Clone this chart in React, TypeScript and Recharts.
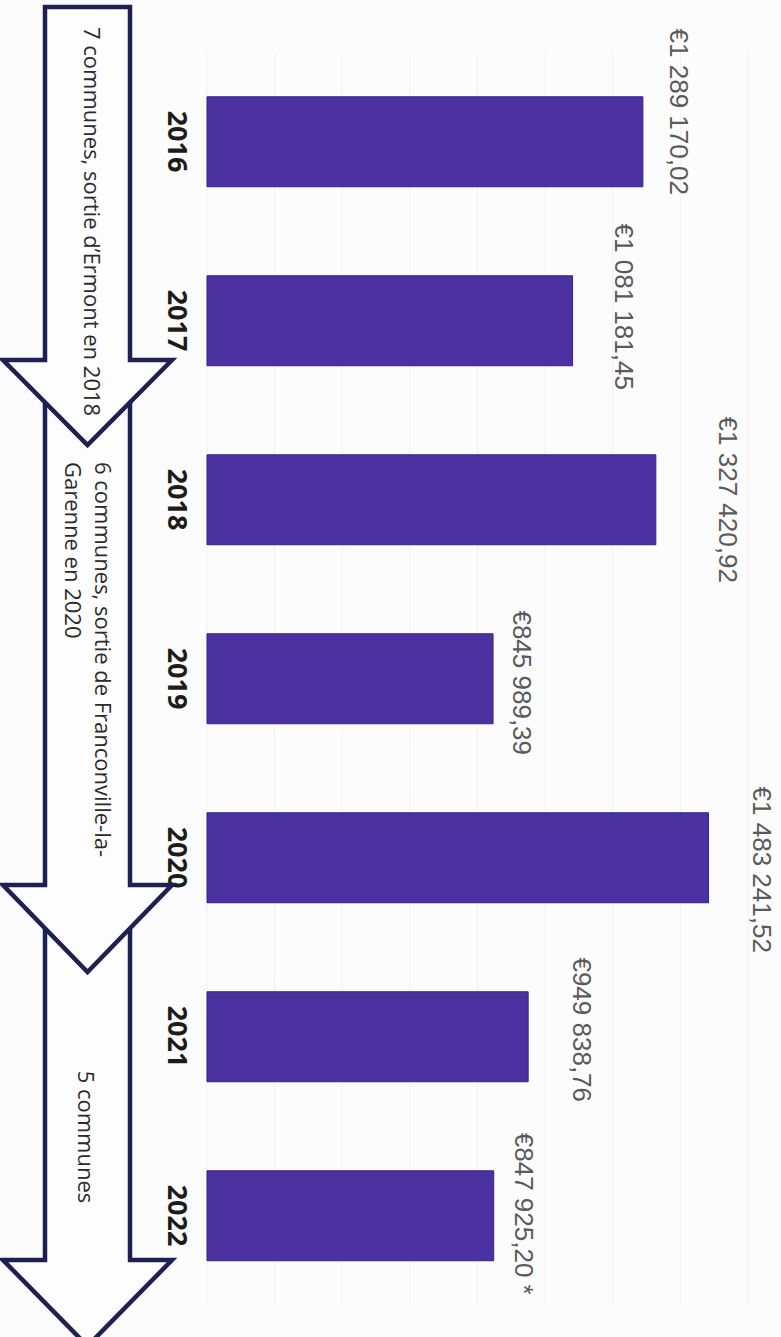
import React from 'react';
import { BarChart, Bar, XAxis, YAxis, CartesianGrid, LabelList } from 'recharts';

// ---- data ----
const years = ['2016', '2017', '2018', '2019', '2020', '2021', '2022'];
const amounts = [1289170.02, 1081181.45, 1327420.92, 845989.39, 1483241.52, 949838.76, 847925.2];
const footnotes = ['', '', '', '', '', '', ' *'];
const xTicks = [0, 200000, 400000, 600000, 800000, 1000000, 1200000, 1400000, 1600000];
const arrowTexts1 = ['7 communes, sortie d\u2019Ermont en 2018'];
const arrowTexts2 = ['6 communes, sortie de Franconville-la-', 'Garenne en 2020'];
const arrowTexts3 = ['5 communes'];

const data = years.map((y, i) => ({ year: y, value: amounts[i] }));

// ---- layout / style constants ----
const W = 781;
const H = 1337;
const BAR_COLOR = '#4b30a0';
const BAR_EDGE = '#33248f';
const ARROW_COLOR = '#1d2050';
const LABEL_DX = [36, 51, 72, 29, 53, 54, 30];
const LABEL_DY = [-30, -14, 0, 4, 12, -7, -2];
const SANS = "'Open Sans', 'Liberation Sans', sans-serif";
const VAL_FONT = "'Liberation Sans', Arial, sans-serif";

function formatEuro(v: number): string {
  const [intPart, dec] = v.toFixed(2).split('.');
  const grouped = intPart.replace(/\B(?=(\d{3})+(?!\d))/g, ' ');
  return `\u20ac${grouped},${dec}`;
}

const YearTick = (props: any) => {
  const { y, payload } = props;
  return (
    <text
      transform={`translate(178, ${y}) rotate(90)`}
      textAnchor="middle"
      dominantBaseline="central"
      fontFamily={SANS}
      fontWeight={700}
      fontSize={27}
      fill="#1c1c1c"
    >
      {payload.value}
    </text>
  );
};

const ValueLabel = (props: any) => {
  const { x, y, width, height, index, value } = props;
  const cx = Number(x) + Number(width) + LABEL_DX[index];
  const cy = Number(y) + Number(height) / 2 + LABEL_DY[index];
  return (
    <text
      transform={`translate(${cx}, ${cy}) rotate(90)`}
      textAnchor="middle"
      dominantBaseline="central"
      fontFamily={VAL_FONT}
      fontSize={26}
      fill="#5a5a5a"
    >
      {formatEuro(Number(value)) + footnotes[index]}
    </text>
  );
};

function arrowPoints(top: number, headBase: number, tip: number): string {
  const l = 45, r = 130, wl = 3, wr = 172, cx = 87.5;
  return [
    [l, top], [r, top], [r, headBase], [wr, headBase], [cx, tip], [wl, headBase], [l, headBase],
  ].map((p) => p.join(',')).join(' ');
}

const RotText = ({ x, y, lines, anchor, gap }: { x: number; y: number; lines: string[]; anchor: 'start' | 'middle'; gap: number }) => (
  <g>
    {lines.map((t, i) => (
      <text
        key={i}
        transform={`translate(${x - i * gap}, ${y}) rotate(90)`}
        textAnchor={anchor}
        dominantBaseline="central"
        fontFamily={SANS}
        fontSize={22}
        fill="#2b2b2b"
      >
        {t}
      </text>
    ))}
  </g>
);

export default function App() {
  return (
    <div style={{ position: 'absolute', left: 0, top: 0, width: W, height: H, background: '#fcfcfd', overflow: 'hidden' }}>
      <BarChart
        width={W}
        height={H}
        data={data}
        layout="vertical"
        margin={{ top: 52, right: 33, bottom: 32, left: 0 }}
        barCategoryGap="25%"
      >
        <CartesianGrid horizontal={false} vertical={true} stroke="#f1f1f4" strokeWidth={1} />
        <XAxis type="number" domain={[0, 1600000]} ticks={xTicks} hide />
        <YAxis
          type="category"
          dataKey="year"
          width={207}
          axisLine={false}
          tickLine={false}
          tick={<YearTick />}
          interval={0}
        />
        <Bar dataKey="value" fill={BAR_COLOR} stroke={BAR_EDGE} strokeWidth={1} isAnimationActive={false}>
          <LabelList dataKey="value" content={<ValueLabel />} />
        </Bar>
      </BarChart>
      <svg width={W} height={H} style={{ position: 'absolute', left: 0, top: 0, pointerEvents: 'none' }}>
        <polygon points={arrowPoints(925, 1260, 1346)} fill="#fdfdfd" stroke={ARROW_COLOR} strokeWidth={4.5} strokeLinejoin="miter" />
        <polygon points={arrowPoints(395, 885, 972)} fill="#fdfdfd" stroke={ARROW_COLOR} strokeWidth={4.5} strokeLinejoin="miter" />
        <polygon points={arrowPoints(7, 360, 445)} fill="#fdfdfd" stroke={ARROW_COLOR} strokeWidth={4.5} strokeLinejoin="miter" />
        <RotText x={93} y={27} lines={arrowTexts1} anchor="start" gap={30} />
        <RotText x={104} y={462} lines={arrowTexts2} anchor="start" gap={30} />
        <RotText x={87} y={1137} lines={arrowTexts3} anchor="middle" gap={30} />
      </svg>
    </div>
  );
}
